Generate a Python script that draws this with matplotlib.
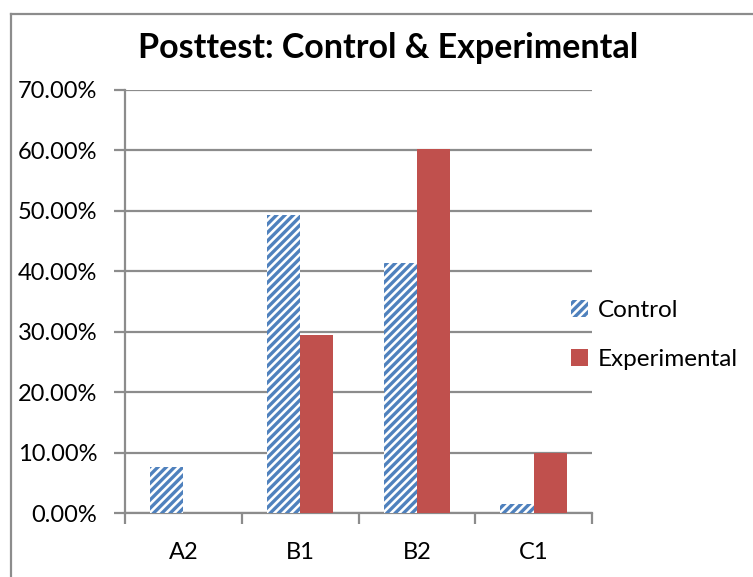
import matplotlib
matplotlib.use('Agg')
import matplotlib.pyplot as plt
from matplotlib.lines import Line2D
from matplotlib.ticker import FuncFormatter
import numpy as np

# datos
categorias = ['A2', 'B1', 'B2', 'C1']
control = [7.6, 49.3, 41.4, 1.5]
experimental = [0.0, 29.5, 60.3, 9.9]
yticks = [0, 10, 20, 30, 40, 50, 60, 70]

plt.rcParams['font.family'] = ['Lato', 'DejaVu Sans']
plt.rcParams['hatch.linewidth'] = 2.4

fig = plt.figure(figsize=(7.53, 5.77), dpi=100)
ax = fig.add_axes([125 / 753, 1 - 513 / 577, 467 / 753, 423 / 577])

x = np.arange(len(categorias))
ancho = 1 / 3.5

ax.bar(x - ancho / 2, control, width=ancho, color='white', edgecolor='#4f81bd',
       linewidth=0, hatch='////', label='Control', zorder=3)
ax.bar(x + ancho / 2, experimental, width=ancho, color='#c0504d',
       edgecolor='none', label='Experimental', zorder=3)

ax.set_xlim(-0.5, len(categorias) - 0.5)
ax.set_ylim(0, 70)
ax.set_yticks(yticks)
ax.yaxis.set_major_formatter(FuncFormatter(lambda v, p: '%.2f%%' % v))
ax.set_xticks(x)
ax.set_xticklabels(categorias)
ax.set_xticks(np.arange(len(categorias) + 1) - 0.5, minor=True)

ax.grid(axis='y', color='#8c8c8c', linewidth=1.6, zorder=0)
for lado in ['top', 'right']:
    ax.spines[lado].set_visible(False)
for lado in ['left', 'bottom']:
    ax.spines[lado].set_color('#8c8c8c')
    ax.spines[lado].set_linewidth(1.6)

ax.tick_params(axis='y', length=8, width=1.6, color='#8c8c8c', labelsize=17, pad=12)
ax.tick_params(axis='x', which='major', length=0, labelsize=17, pad=21)
ax.tick_params(axis='x', which='minor', length=8, width=1.6, color='#8c8c8c')

fig.text(388 / 753, 1 - 48 / 577, 'Posttest: Control & Experimental',
         ha='center', va='center', fontsize=24.5, fontweight='bold')

leg = fig.legend(loc='center left', bbox_to_anchor=(561 / 753, 1 - 335 / 577),
                 frameon=False, fontsize=17.5, handlelength=0.7, handleheight=0.7,
                 handletextpad=0.4, labelspacing=1.15, borderaxespad=0)

# marco del grafico
fig.add_artist(Line2D([11 / 753, 1], [1 - 14 / 577, 1 - 14 / 577],
                      transform=fig.transFigure, color='#8c8c8c', linewidth=1.6))
fig.add_artist(Line2D([11 / 753, 11 / 753], [0, 1 - 14 / 577],
                      transform=fig.transFigure, color='#8c8c8c', linewidth=1.6))

fig.savefig('out.png', dpi=100)
